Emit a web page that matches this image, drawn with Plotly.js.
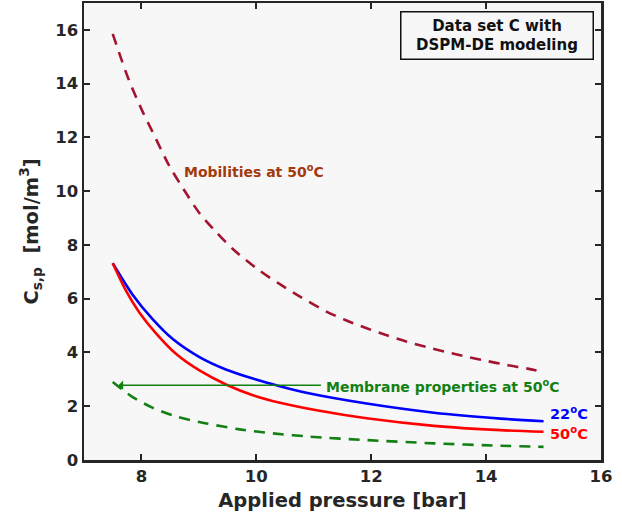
<!DOCTYPE html>
<html><head><meta charset="utf-8">
<script src="https://cdn.plot.ly/plotly-3.0.1.min.js"></script>
<style>html,body{margin:0;padding:0;background:#fff}</style>
</head><body>
<div id="chart" style="width:622px;height:523px"></div>
<script>
// Mobilities at 50°C (dashed, maroon)
var mobX = [7.5, 7.78, 8.02, 8.19, 8.48, 8.72, 9.01, 9.30, 9.59, 10.06, 10.41, 10.76, 11.22, 11.57, 11.92, 12.27, 12.62, 12.97, 13.32, 13.67, 14.02, 14.37, 14.72, 15.0];
var mobY = [15.85, 14.14, 12.96, 12.22, 10.96, 10.12, 9.18, 8.48, 7.85, 7.04, 6.54, 6.08, 5.52, 5.19, 4.90, 4.64, 4.40, 4.20, 4.01, 3.84, 3.68, 3.53, 3.40, 3.27];
// 22°C (solid blue)
var blueX = [7.5, 7.84, 8.19, 8.54, 9.01, 9.48, 9.94, 10.41, 10.87, 11.92, 13.09, 14.25, 15.0];
var blueY = [7.32, 6.17, 5.25, 4.51, 3.83, 3.36, 3.03, 2.74, 2.50, 2.10, 1.76, 1.54, 1.44];
// 50°C (solid red)
var redX = [7.5, 7.73, 7.96, 8.25, 8.60, 9.01, 9.48, 9.94, 10.41, 11.10, 11.92, 13.09, 14.25, 15.0];
var redY = [7.32, 6.30, 5.50, 4.72, 3.95, 3.33, 2.80, 2.41, 2.13, 1.83, 1.55, 1.27, 1.11, 1.05];
// Membrane properties at 50°C (dashed green)
var memX = [7.5, 7.84, 8.19, 8.60, 9.13, 9.71, 10.29, 10.93, 11.92, 13.09, 14.25, 15.0];
var memY = [2.90, 2.35, 1.95, 1.62, 1.36, 1.14, 0.99, 0.87, 0.74, 0.62, 0.53, 0.49];

var xTicks = [8, 10, 12, 14, 16];
var yTicks = [0, 2, 4, 6, 8, 10, 12, 14, 16];

var FONT = "DejaVu Sans, Verdana, sans-serif";
var ink = "#262626";

var traces = [
  {x: mobX, y: mobY, mode: "lines", line: {color: "#a2142f", width: 2.6, dash: "11px,8px", shape: "spline", smoothing: 0.8}, hoverinfo: "skip"},
  {x: memX, y: memY, mode: "lines", line: {color: "#128012", width: 2.6, dash: "11px,8px", shape: "spline", smoothing: 0.8}, hoverinfo: "skip"},
  {x: blueX, y: blueY, mode: "lines", line: {color: "#0000ff", width: 2.6, shape: "spline", smoothing: 0.8}, hoverinfo: "skip"},
  {x: redX, y: redY, mode: "lines", line: {color: "#ff0000", width: 2.6, shape: "spline", smoothing: 0.8}, hoverinfo: "skip"}
];

var layout = {
  width: 622, height: 523,
  margin: {l: 84, r: 21, t: 3, b: 63},
  paper_bgcolor: "#ffffff",
  plot_bgcolor: "#f7f7f7",
  showlegend: false,
  font: {family: FONT, color: ink},
  xaxis: {
    range: [7, 16], tickvals: xTicks, ticktext: xTicks.map(String),
    ticks: "inside", ticklen: 6, tickwidth: 2, tickcolor: ink,
    showline: true, linewidth: 2.5, linecolor: ink, mirror: "ticks",
    showgrid: false, zeroline: false,
    tickfont: {family: FONT, size: 16.5, color: ink, weight: "bold"},
    title: {text: "Applied pressure [bar]", font: {family: FONT, size: 19.5, color: ink, weight: "bold"}, standoff: 8}
  },
  yaxis: {
    range: [0, 17], tickvals: yTicks, ticktext: yTicks.map(String),
    ticks: "inside", ticklen: 6, tickwidth: 2, tickcolor: ink,
    showline: true, linewidth: 2.5, linecolor: ink, mirror: "ticks",
    showgrid: false, zeroline: false,
    tickfont: {family: FONT, size: 16.5, color: ink, weight: "bold"},
    title: {text: "C<sub>s,p</sub>  [mol/m<sup>3</sup>]", font: {family: FONT, size: 19.5, color: ink, weight: "bold"}, standoff: 12}
  },
  annotations: [
    {xref: "x", yref: "y", x: 8.71, y: 10.74, xanchor: "left", yanchor: "middle", showarrow: false,
     text: "Mobilities at 50<sup>o</sup>C", font: {family: FONT, size: 14, color: "#a33a0c", weight: "bold"}},
    {xref: "paper", yref: "paper", x: 0.7998, y: 0.928, xanchor: "center", yanchor: "middle", showarrow: false,
     text: "Data set C with<br>DSPM-DE modeling", align: "center", width: 185, height: 40,
     bordercolor: "#111", borderwidth: 1.5, borderpad: 3, bgcolor: "#f7f7f7",
     font: {family: FONT, size: 15, color: "#111", weight: "bold"}},
    {xref: "x", yref: "y", x: 11.18, y: 2.74, xanchor: "left", yanchor: "middle", showarrow: false,
     text: "Membrane properties at 50<sup>o</sup>C", font: {family: FONT, size: 14, color: "#128012", weight: "bold"}},
    {xref: "x", yref: "y", x: 7.6, y: 2.78, axref: "x", ayref: "y", ax: 11.15, ay: 2.78,
     showarrow: true, arrowhead: 1, arrowsize: 1.2, arrowwidth: 1.3, arrowcolor: "#128012", text: ""},
    {xref: "x", yref: "y", x: 15.07, y: 1.75, xanchor: "left", yanchor: "middle", showarrow: false,
     text: "22<sup>o</sup>C", font: {family: FONT, size: 14.5, color: "#0000ff", weight: "bold"}},
    {xref: "x", yref: "y", x: 15.07, y: 0.99, xanchor: "left", yanchor: "middle", showarrow: false,
     text: "50<sup>o</sup>C", font: {family: FONT, size: 14.5, color: "#ff0000", weight: "bold"}}
  ]
};

Plotly.newPlot("chart", traces, layout, {staticPlot: true, displayModeBar: false});
</script>
</body></html>
